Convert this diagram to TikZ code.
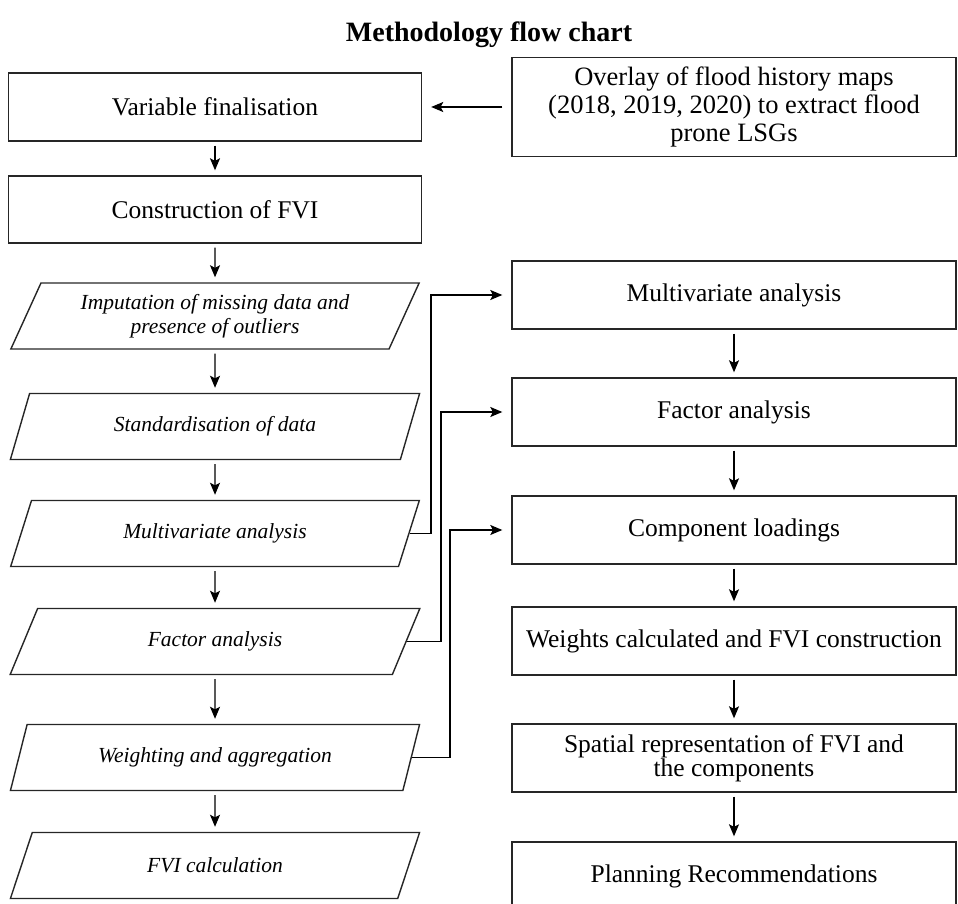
\documentclass[tikz,border=0pt]{standalone}
\usepackage{fontspec}
\setmainfont{Liberation Serif}
\usetikzlibrary{shapes.geometric,arrows.meta}

\tikzstyle{stepbox} = [draw=black!85, line width=1.4pt, minimum width=444pt, minimum height=68pt, inner sep=0pt, align=center, font=\fontsize{25.5}{23}\selectfont]
\tikzstyle{leftbox} = [stepbox, minimum width=413pt]
\tikzstyle{databox} = [trapezium, trapezium stretches=true, trapezium left angle=62, trapezium right angle=118, draw=black!85, line width=1.4pt, minimum width=410pt, minimum height=66pt, inner sep=0pt, align=center, font=\fontsize{21.5}{24}\selectfont\itshape]
\tikzstyle{arr} = [-{Stealth[length=12pt,width=10pt,inset=2.5pt]}, line width=1.3pt]

\begin{document}
\begin{tikzpicture}[x=1pt, y=-1pt]
       \useasboundingbox (0,0) rectangle (958,904);
       \node[font=\fontsize{28}{30}\selectfont\bfseries] (title) at (489,35) {Methodology flow chart};

       \node[leftbox] (varfin) at (215,107) {Variable finalisation};
       \node[stepbox, minimum height=99pt, font=\fontsize{26.5}{28}\selectfont] (overlay) at (734,107) {Overlay of flood history maps\\(2018, 2019, 2020) to extract flood\\prone LSGs};
       \node[leftbox, minimum height=67pt] (constr) at (215,209.5) {Construction of FVI};
       \node[databox] (imput) at (215,316) {Imputation of missing data and\\presence of outliers};
       \node[databox] (stand) at (215,426.5) {Standardisation of data};
       \node[databox] (multi) at (215,533.5) {Multivariate analysis};
       \node[databox] (factor) at (215,641.5) {Factor analysis};
       \node[databox] (weight) at (215,757.5) {Weighting and aggregation};
       \node[databox] (fvicalc) at (215,865.5) {FVI calculation};

       \node[stepbox] (rmulti) at (734,295) {Multivariate analysis};
       \node[stepbox] (rfactor) at (734,412) {Factor analysis};
       \node[stepbox] (loads) at (734,530) {Component loadings};
       \node[stepbox] (weights) at (734,641) {Weights calculated and FVI construction};
       \node[stepbox] (spatial) at (734,758) {Spatial representation of FVI and\\the components};
       \node[stepbox] (plan) at (734,876) {Planning Recommendations};

       \draw[arr, shorten <=9pt, shorten >=9pt] (overlay.west) -- (varfin.east);
       \foreach \a/\b in {varfin/constr, constr/imput, imput/stand, stand/multi, multi/factor, factor/weight, weight/fvicalc, rmulti/rfactor, rfactor/loads, loads/weights, weights/spatial, spatial/plan}
          \draw[arr, shorten <=4pt, shorten >=5pt] (\a.south) -- (\b.north);

       \draw[arr, shorten >=9pt] (multi.east) -- (431,0 |- multi.east) |- (rmulti.west);
       \draw[arr, shorten >=9pt] (factor.east) -- (441,0 |- factor.east) |- (rfactor.west);
       \draw[arr, shorten >=9pt] (weight.east) -- (450,0 |- weight.east) |- (loads.west);
     \end{tikzpicture}
\end{document}
